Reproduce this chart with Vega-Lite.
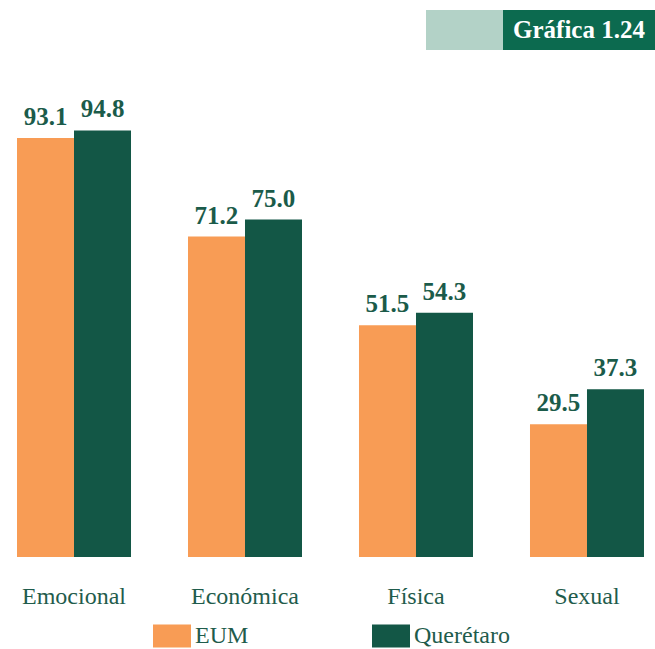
{
  "$schema": "https://vega.github.io/schema/vega-lite/v6.json",
  "padding": {"left": 0, "top": 10, "right": 0, "bottom": 0},
  "bounds": "flush",
  "spacing": 97,
  "config": {"view": {"stroke": null}, "font": "Liberation Serif"},
  "vconcat": [
    {
      "spacing": 0,
      "bounds": "flush",
      "hconcat": [
        {"width": 426, "height": 40, "data": {"values": [{"t": ""}]}, "mark": {"type": "rect", "opacity": 0}, "encoding": {}},
        {"width": 77, "height": 40, "data": {"values": [{"t": ""}]}, "mark": {"type": "rect", "fill": "#B3D2C7"}, "encoding": {}},
        {
          "width": 152, "height": 40,
          "data": {"values": [{"t": "Gráfica 1.24"}]},
          "layer": [
            {"mark": {"type": "rect", "fill": "#0C6A4F"}, "encoding": {}},
            {"mark": {"type": "text", "color": "#FFFFFF", "fontSize": 25, "fontWeight": "bold", "font": "Liberation Serif"}, "encoding": {"text": {"field": "t"}}}
          ]
        }
      ]
    },
    {
      "width": 655,
      "height": 450,
      "data": {"values": [
        {"tipo": "Emocional", "serie": "EUM", "valor": 93.1},
        {"tipo": "Emocional", "serie": "Querétaro", "valor": 94.8},
        {"tipo": "Económica", "serie": "EUM", "valor": 71.2},
        {"tipo": "Económica", "serie": "Querétaro", "valor": 75.0},
        {"tipo": "Física", "serie": "EUM", "valor": 51.5},
        {"tipo": "Física", "serie": "Querétaro", "valor": 54.3},
        {"tipo": "Sexual", "serie": "EUM", "valor": 29.5},
        {"tipo": "Sexual", "serie": "Querétaro", "valor": 37.3}
      ]},
      "encoding": {
        "x": {
          "field": "tipo", "type": "nominal",
          "sort": ["Emocional", "Económica", "Física", "Sexual"],
          "scale": {"paddingInner": 0.3333, "paddingOuter": 0.0819, "align": 0.607},
          "axis": {"title": null, "domain": false, "ticks": false, "labelAngle": 0, "labelFontSize": 24, "labelColor": "#1F5C4C", "labelFont": "Liberation Serif", "labelPadding": 46, "labelBaseline": "alphabetic"}
        },
        "xOffset": {"field": "serie", "type": "nominal", "sort": ["EUM", "Querétaro"], "scale": {"paddingInner": 0, "paddingOuter": 0}},
        "y": {"field": "valor", "type": "quantitative", "scale": {"domain": [0, 100], "nice": false}, "axis": null}
      },
      "layer": [
        {
          "mark": {"type": "bar"},
          "encoding": {
            "color": {
              "field": "serie", "type": "nominal",
              "scale": {"domain": ["EUM", "Querétaro"], "range": ["#F89C55", "#135746"]},
              "legend": {
                "title": null, "orient": "none", "legendX": 153, "legendY": 607,
                "direction": "horizontal", "columns": 2, "columnPadding": 123,
                "symbolType": "M-1,-0.605H1V0.605H-1Z", "symbolSize": 1444,
                "symbolStrokeWidth": 0, "symbolOpacity": 1,
                "labelFontSize": 24, "labelColor": "#1F5C4C", "labelFont": "Liberation Serif", "labelOffset": 4
              }
            }
          }
        },
        {
          "mark": {"type": "text", "dy": -13, "baseline": "alphabetic", "fontSize": 25, "fontWeight": "bold", "font": "Liberation Serif", "color": "#1B5B4A"},
          "encoding": {"text": {"field": "valor", "type": "quantitative", "format": ".1f"}}
        }
      ]
    }
  ]
}
